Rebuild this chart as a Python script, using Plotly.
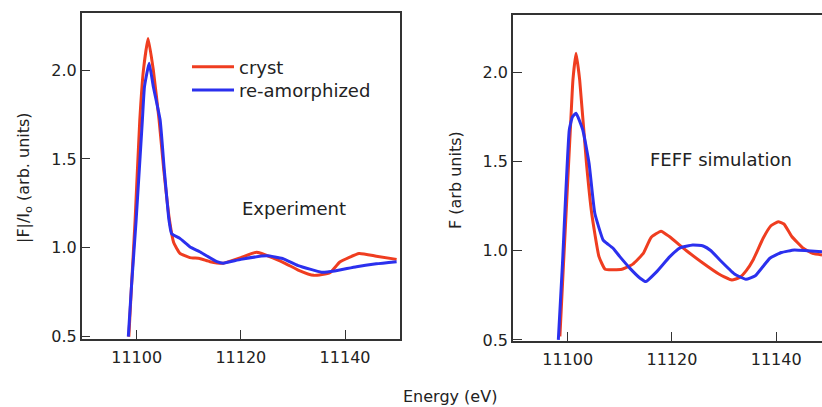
import plotly.graph_objects as go

W, H = 822, 407

# ---- Experiment (left panel) ----
exp_cryst_E = [11098.5, 11099.0, 11099.7, 11100.6, 11101.3, 11102.2, 11103.2, 11104.3, 11105.2,
               11106.3, 11107.1, 11108.3, 11110.2, 11112.1, 11114.1, 11116.6, 11120.0, 11123.0,
               11128.0, 11131.0, 11134.0, 11137.1, 11139.0, 11142.7, 11146.0, 11149.9]
exp_cryst_v = [0.50, 0.78, 1.156, 1.72, 2.00, 2.178, 2.00, 1.72, 1.44,
               1.156, 1.03, 0.969, 0.945, 0.94, 0.922, 0.913, 0.945, 0.975,
               0.92, 0.875, 0.845, 0.86, 0.92, 0.968, 0.953, 0.935]

exp_amor_E = [11098.4, 11099.0, 11099.9, 11101.1, 11101.5, 11102.4, 11103.2, 11104.5, 11105.3,
              11106.2, 11106.7, 11108.3, 11110.2, 11112.1, 11115.4, 11116.6, 11120.0, 11125.0,
              11128.0, 11131.0, 11135.5, 11138.0, 11142.2, 11146.0, 11149.9]
exp_amor_v = [0.50, 0.78, 1.156, 1.72, 1.906, 2.038, 1.906, 1.72, 1.44,
              1.156, 1.08, 1.053, 1.006, 0.978, 0.922, 0.913, 0.935, 0.955,
              0.94, 0.90, 0.863, 0.87, 0.894, 0.91, 0.922]

# ---- FEFF simulation (right panel) ----
sim_cryst_E = [11098.5, 11099.2, 11100.5, 11101.0, 11101.6, 11102.3, 11103.6, 11104.6, 11106.0,
               11107.2, 11110.4, 11112.5, 11114.5, 11116.0, 11117.9, 11119.5, 11122.8, 11126.0,
               11129.0, 11131.5, 11133.0, 11134.3, 11135.6, 11137.5, 11139.0, 11140.4, 11141.5,
               11143.0, 11145.2, 11147.0, 11148.8]
sim_cryst_v = [0.52, 0.93, 1.677, 1.957, 2.107, 1.957, 1.49, 1.21, 0.967,
               0.896, 0.896, 0.925, 0.985, 1.075, 1.11, 1.08, 1.00, 0.93,
               0.87, 0.836, 0.85, 0.89, 0.95, 1.07, 1.14, 1.163, 1.15,
               1.08, 1.014, 0.985, 0.976]

sim_amor_E = [11098.2, 11099.0, 11100.3, 11100.9, 11101.6, 11102.9, 11104.1, 11105.2, 11106.8,
              11107.5, 11108.7, 11110.0, 11112.0, 11113.9, 11115.0, 11117.0, 11119.6, 11121.5,
              11124.0, 11126.0, 11127.5, 11129.2, 11132.0, 11134.2, 11136.0, 11138.8, 11141.0,
              11143.5, 11146.0, 11148.8]
sim_amor_v = [0.50, 0.93, 1.677, 1.75, 1.771, 1.677, 1.49, 1.21, 1.06,
              1.042, 1.014, 0.967, 0.90, 0.846, 0.827, 0.88, 0.967, 1.015,
              1.032, 1.027, 1.00, 0.948, 0.87, 0.84, 0.86, 0.958, 0.99,
              1.004, 1.00, 0.995]

series_names = ["cryst", "re-amorphized"]
RED = "#ef3d20"
BLUE = "#2b30ee"
x_ticks = [11100, 11120, 11140]
y_ticks = [0.5, 1.0, 1.5, 2.0]

FONT = "DejaVu Sans"
AX = "#333333"
TXT = "#222222"

def line(color):
    return dict(color=color, width=3, shape="spline", smoothing=0.4)

fig = go.Figure()
fig.add_trace(go.Scatter(x=exp_cryst_E, y=exp_cryst_v, mode="lines", name=series_names[0],
                         line=line(RED), xaxis="x", yaxis="y", legend="legend"))
fig.add_trace(go.Scatter(x=exp_amor_E, y=exp_amor_v, mode="lines", name=series_names[1],
                         line=line(BLUE), xaxis="x", yaxis="y", legend="legend2"))
fig.add_trace(go.Scatter(x=sim_cryst_E, y=sim_cryst_v, mode="lines", name=series_names[0],
                         showlegend=False, line=line(RED), xaxis="x2", yaxis="y2"))
fig.add_trace(go.Scatter(x=sim_amor_E, y=sim_amor_v, mode="lines", name=series_names[1],
                         showlegend=False, line=line(BLUE), xaxis="x2", yaxis="y2"))

def px_x(p):
    return p / W

def px_y(p):
    return (H - p) / H

common_x = dict(showline=True, linecolor=AX, linewidth=1.5, ticks="inside", ticklen=9,
                tickwidth=1.2, tickcolor=AX, tickvals=x_ticks, tickformat="d",
                ticklabelstandoff=3, showgrid=False, zeroline=False, automargin=False,
                tickfont=dict(family=FONT, size=16, color=TXT))
common_y = dict(showline=True, linecolor=AX, linewidth=1.5, ticks="inside", ticklen=9,
                tickwidth=1.2, tickcolor=AX, tickvals=y_ticks, tickformat=".1f",
                showgrid=False, zeroline=False, automargin=False,
                tickfont=dict(family=FONT, size=16, color=TXT))

legend_common = dict(xanchor="left", yanchor="top", font=dict(family=FONT, size=18, color=TXT),
                     itemwidth=42, bgcolor="rgba(0,0,0,0)")

def ann(text, x, y, size, angle=0):
    return dict(text=text, x=px_x(x), y=px_y(y), xref="paper", yref="paper",
                xanchor="center", yanchor="middle", showarrow=False, textangle=angle,
                font=dict(family=FONT, size=size, color=TXT))

fig.update_layout(
    width=W, height=H,
    margin=dict(l=0, r=0, t=0, b=0, autoexpand=False),
    paper_bgcolor="white", plot_bgcolor="white",
    font=dict(family=FONT, color=TXT),
    xaxis=dict(domain=[px_x(81.7), px_x(400)], range=[11089.45, 11150.55], mirror=True,
               anchor="y", **common_x),
    yaxis=dict(domain=[px_y(339), px_y(13)], range=[0.487, 2.321], mirror=True,
               anchor="x", **common_y),
    xaxis2=dict(domain=[px_x(513), 1.0], range=[11089.5, 11148.8], mirror=True,
                anchor="y2", **common_x),
    yaxis2=dict(domain=[px_y(341), px_y(15)], range=[0.494, 2.322], mirror=False,
                anchor="x2", **common_y),
    showlegend=True,
    legend=dict(x=px_x(187), y=px_y(48.5), **legend_common),
    legend2=dict(x=px_x(187), y=px_y(71.8), **legend_common),
    annotations=[
        ann("Experiment", 293.5, 208, 18),
        ann("FEFF simulation", 721, 159.5, 18),
        ann("|F|/I<sub>o</sub> (arb. units)", 25, 178, 16, -90),
        ann("F (arb units)", 455, 180, 16, -90),
        ann("Energy (eV)", 449.5, 396, 16),
    ],
)

fig.write_html("out.html")
